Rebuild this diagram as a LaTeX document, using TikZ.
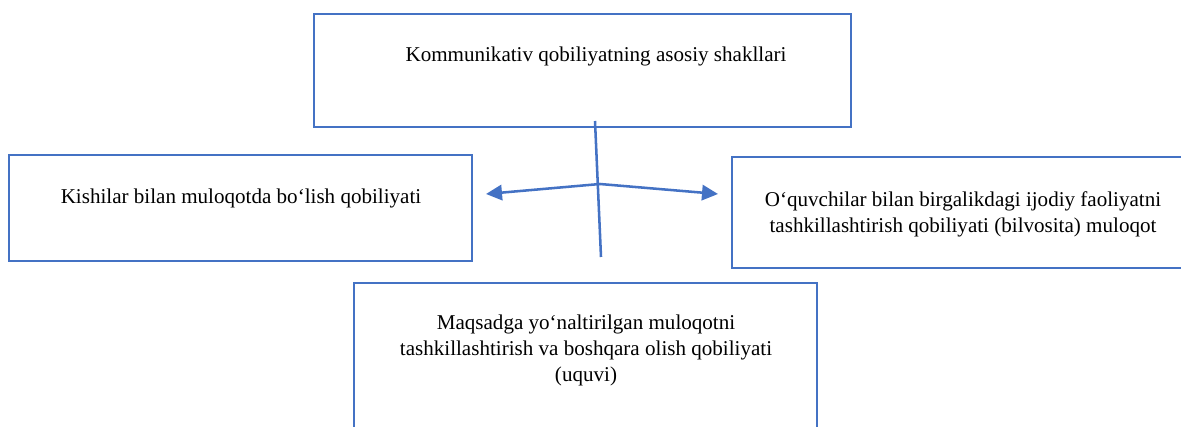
\documentclass[tikz,border=0pt]{standalone}
\usepackage{fontspec}
\setmainfont{Liberation Serif}
\usetikzlibrary{arrows.meta}
\definecolor{boxblue}{HTML}{4472C4}
\tikzset{
  boxshape/.style={draw=boxblue, line width=1.9pt, rectangle, inner sep=0pt},
  txt/.style={inner sep=0pt, align=center, font=\fontsize{15.8}{19.5}\selectfont, text=black},
  link/.style={draw=boxblue, line width=1.9pt},
  arrowlink/.style={link, -{Triangle[length=12pt,width=11.5pt]}}
}
\begin{document}
\begin{tikzpicture}[x=0.75pt,y=-0.75pt]
\useasboundingbox (0,0) rectangle (1181,427);
\clip (0,0) rectangle (1181,427);
% boxes
\node[boxshape, minimum width=0.75pt*537, minimum height=0.75pt*113] (top) at (582.5,70.5) {};
\node[boxshape, minimum width=0.75pt*463, minimum height=0.75pt*106] (left) at (240.5,208) {};
\node[boxshape, minimum width=0.75pt*462, minimum height=0.75pt*111] (right) at (963,212.5) {};
\node[boxshape, minimum width=0.75pt*463, minimum height=0.75pt*180] (bottom) at (585.5,373) {};
% texts
\node[txt, anchor=base] (toptext) at (596,62) {Kommunikativ qobiliyatning asosiy shakllari};
\node[txt, anchor=base] (lefttext) at (241,204) {Kishilar bilan muloqotda bo‘lish qobiliyati};
\node[txt] (righttext) at (963,214) {O‘quvchilar bilan birgalikdagi ijodiy faoliyatni\\tashkillashtirish qobiliyati (bilvosita) muloqot};
\node[txt] (bottomtext) at (586,350) {Maqsadga yo‘naltirilgan muloqotni\\tashkillashtirish va boshqara olish qobiliyati\\(uquvi)};
% connectors
\coordinate (vtop) at (595,121);
\coordinate (vbot) at (601,257);
\coordinate (junc) at (600,184);
\coordinate (ltip) at (486,194);
\coordinate (rtip) at (718,194);
\draw[link] (vtop) -- (vbot);
\draw[arrowlink] (junc) -- (ltip);
\draw[arrowlink] (junc) -- (rtip);
\end{tikzpicture}
\end{document}
